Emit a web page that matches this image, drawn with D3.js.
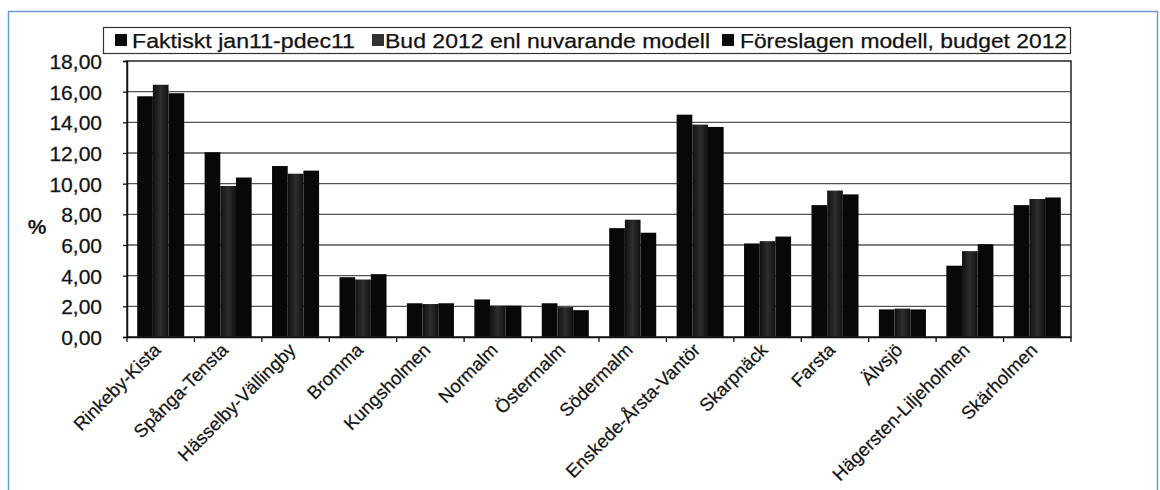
<!DOCTYPE html>
<html>
<head>
<meta charset="utf-8">
<script src="https://cdn.jsdelivr.net/npm/d3@7"></script>
<style>
  html, body { margin: 0; padding: 0; background: #fff; }
  svg { display: block; }
  text { font-family: "Liberation Sans", Arial, sans-serif; fill: #111; }
</style>
</head>
<body>
<svg id="chart" width="1160" height="490"></svg>
<script>
const categories = ["Rinkeby-Kista", "Spånga-Tensta", "Hässelby-Vällingby", "Bromma", "Kungsholmen",
  "Normalm", "Östermalm", "Södermalm", "Enskede-Årsta-Vantör", "Skarpnäck", "Farsta", "Älvsjö",
  "Hägersten-Liljeholmen", "Skärholmen"];
const faktiskt      = [15.7, 12.05, 11.15, 3.9, 2.2, 2.45, 2.2, 7.1, 14.5, 6.1, 8.6, 1.8, 4.65, 8.6];
const budNuvarande  = [16.45, 9.85, 10.65, 3.75, 2.15, 2.05, 1.95, 7.65, 13.85, 6.25, 9.55, 1.85, 5.6, 9.0];
const foreslagen    = [15.9, 10.4, 10.85, 4.1, 2.2, 2.05, 1.75, 6.8, 13.7, 6.55, 9.3, 1.8, 6.05, 9.1];
const seriesNames   = ["Faktiskt jan11-pdec11", "Bud 2012 enl nuvarande modell", "Föreslagen modell, budget 2012"];
const yTicks        = [0, 2, 4, 6, 8, 10, 12, 14, 16, 18];
const yLabel        = "%";

const seriesValues = [faktiskt, budNuvarande, foreslagen];
const svg = d3.select("#chart");

// defs: texture for middle series
const defs = svg.append("defs");
const grad = defs.append("linearGradient").attr("id", "midFill").attr("x1", "0").attr("x2", "1").attr("y1", "0").attr("y2", "0");
grad.append("stop").attr("offset", "0%").attr("stop-color", "#111");
grad.append("stop").attr("offset", "50%").attr("stop-color", "#2e2e2e");
grad.append("stop").attr("offset", "100%").attr("stop-color", "#111");
const fills = ["#080808", "url(#midFill)", "#080808"];

// outer blue frame
svg.append("rect").attr("x", 8.5).attr("y", 11.5).attr("width", 1149).attr("height", 490)
  .attr("fill", "none").attr("stroke", "#6f9bd6").attr("stroke-width", 1.5);

const L = 127, R = 1071, T = 61, B = 337;

const x = d3.scaleBand().domain(categories).range([L, R]).paddingInner(0).paddingOuter(0);
const x1 = d3.scaleBand().domain([0, 1, 2]).range([0, x.bandwidth()]).paddingInner(0).paddingOuter(0.65);
const y = d3.scaleLinear().domain([0, 18]).range([B, T]);

// gridlines
svg.append("g").selectAll("line").data(yTicks.filter(d => d > 0 && d < 18)).join("line")
  .attr("x1", L).attr("x2", R).attr("y1", d => y(d)).attr("y2", d => y(d))
  .attr("stroke", "#555").attr("stroke-width", 1.3);

// bars
const groups = svg.append("g").selectAll("g").data(categories).join("g")
  .attr("transform", d => `translate(${x(d)},0)`);
groups.selectAll("rect").data((d, i) => seriesValues.map((s, k) => ({k, v: s[i]}))).join("rect")
  .attr("x", d => x1(d.k)).attr("width", x1.bandwidth())
  .attr("y", d => y(d.v)).attr("height", d => y(0) - y(d.v))
  .attr("fill", d => fills[d.k]);

// plot border (top, right)
svg.append("rect").attr("x", L).attr("y", T).attr("width", R - L).attr("height", B - T)
  .attr("fill", "none").attr("stroke", "#222").attr("stroke-width", 1.5);

// y axis
const yAxis = d3.axisLeft(y).tickValues(yTicks).tickSize(4)
  .tickFormat(d => d3.format(".2f")(d).replace(".", ","));
const gy = svg.append("g").attr("transform", `translate(${L},0)`).call(yAxis);
gy.select(".domain").attr("stroke", "#111").attr("stroke-width", 1.5);
gy.selectAll(".tick line").attr("stroke", "#111").attr("stroke-width", 1.3);
gy.selectAll(".tick text").attr("x", -25).attr("dy", "0.36em")
  .style("font-size", "21px").style("font-family", "'Liberation Sans', Arial, sans-serif")
  .attr("fill", "#222").attr("stroke", "#222").attr("stroke-width", 0.3);

// x axis
const xAxis = d3.axisBottom(x).tickSize(0).tickFormat("");
const gx = svg.append("g").attr("transform", `translate(0,${B})`).call(xAxis);
gx.select(".domain").attr("stroke", "#111").attr("stroke-width", 1.5);
// ticks at category boundaries
svg.append("g").selectAll("line").data(categories.concat(["__end"])).join("line")
  .attr("x1", (d, i) => L + i * x.step()).attr("x2", (d, i) => L + i * x.step())
  .attr("y1", B).attr("y2", B + 5).attr("stroke", "#111").attr("stroke-width", 1.3);
// rotated labels
svg.append("g").selectAll("text").data(categories).join("text")
  .attr("transform", d => `translate(${x(d) + x.bandwidth() / 2 - 8},${B + 5}) rotate(-45)`)
  .attr("text-anchor", "end").attr("dy", "0.7em")
  .style("font-size", "18.5px").attr("fill", "#222").attr("stroke", "#222").attr("stroke-width", 0.25)
  .text(d => d);

// y label
svg.append("text").attr("x", 37).attr("y", 227).attr("text-anchor", "middle").attr("dy", "0.35em")
  .style("font-size", "21px").style("font-weight", "bold").attr("fill", "#222").text(yLabel);

// legend
const lg = svg.append("g");
lg.append("rect").attr("x", 103.5).attr("y", 27.5).attr("width", 967).attr("height", 26)
  .attr("fill", "#fff").attr("stroke", "#333").attr("stroke-width", 1.2);
const markerX = [115, 372, 722];
const textX = [132, 385, 740];
const textW = [223, 325, 327];
seriesNames.forEach((name, k) => {
  lg.append("rect").attr("x", markerX[k]).attr("y", 34).attr("width", 12).attr("height", 12)
    .attr("fill", k === 1 ? "#333" : "#0b0b0b");
  lg.append("text").attr("x", textX[k]).attr("y", 47.5)
    .attr("textLength", textW[k]).attr("lengthAdjust", "spacingAndGlyphs")
    .style("font-size", "20.5px").attr("fill", "#111").attr("stroke", "#111").attr("stroke-width", 0.25)
    .text(name);
});
</script>
</body>
</html>
